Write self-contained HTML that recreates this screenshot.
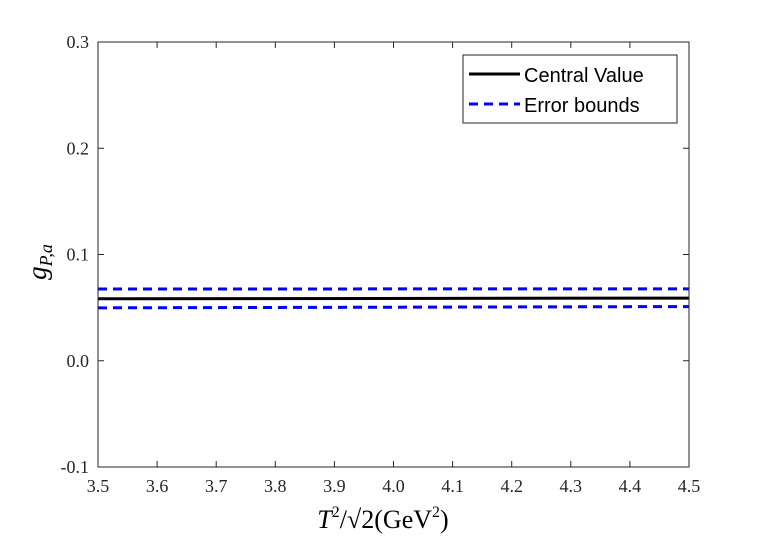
<!DOCTYPE html>
<html><head><meta charset="utf-8"><style>
body{margin:0;background:#fff;}
svg{display:block;font-family:"Liberation Sans",sans-serif;}
</style></head><body>
<svg id="chart" width="763" height="545" xmlns="http://www.w3.org/2000/svg">
<rect width="763" height="545" fill="#fff"/>
<g id="marks"></g>
<rect x="98" y="42" width="591" height="425" fill="none" stroke="#262626" stroke-width="1"/>
<g id="ticks"></g>
<text x="0" y="0" font-family="Liberation Serif,serif" font-style="italic" font-size="27" transform="translate(46,262) rotate(-90)" text-anchor="middle">g<tspan font-size="18" dy="6">P,a</tspan></text>
<text x="383" y="528" font-family="Liberation Serif,serif" font-size="26" text-anchor="middle"><tspan font-style="italic">T</tspan><tspan font-size="16" dy="-11">2</tspan><tspan dy="11">/√2(GeV</tspan><tspan font-size="16" dy="-11">2</tspan><tspan dy="11">)</tspan></text>
<g>
<rect x="463" y="55" width="214" height="68" fill="#fff" stroke="#262626" stroke-width="1"/>
<line x1="469" y1="74" x2="520" y2="74" stroke="#000" stroke-width="3"/>
<text x="524" y="82" font-size="20">Central Value</text>
<line x1="469" y1="104" x2="520" y2="104" stroke="#00f" stroke-width="3" stroke-dasharray="9,6"/>
<text x="524" y="112" font-size="20">Error bounds</text>
</g>
</svg>
<script>
const xs=[3.5,4.5];
const central=[0.0583,0.0590];
const upper=[0.0675,0.0677];
const lower=[0.0498,0.0510];
const xTicks=[3.5,3.6,3.7,3.8,3.9,4.0,4.1,4.2,4.3,4.4,4.5];
const yTicks=[-0.1,0.0,0.1,0.2,0.3];
const yTickLabels=["-0.1","0.0","0.1","0.2","0.3"];
const X=v=>98+(v-3.5)/1.0*591;
const Y=v=>467-(v+0.1)/0.4*425;
const NS="http://www.w3.org/2000/svg";
const marks=document.getElementById('marks'),ticks=document.getElementById('ticks');
function mk(tag,attrs,parent){const e=document.createElementNS(NS,tag);for(const k in attrs)e.setAttribute(k,attrs[k]);parent.appendChild(e);return e;}
function line(vals,name,color,w,dash){
 const p=mk('polyline',{points:xs.map((x,i)=>X(x)+','+Y(vals[i])).join(' '),fill:'none',stroke:color,'stroke-width':w},marks);
 if(dash)p.setAttribute('stroke-dasharray',dash);
 
 
}
line(upper,'upper-error-line','#00f',3,'9,6');
line(lower,'lower-error-line','#00f',3,'9,6');
line(central,'central-value-line','#000',3,null);
xTicks.forEach(v=>{
 const x=X(v);
 mk('line',{x1:x,y1:467,x2:x,y2:461,stroke:'#262626'},ticks);
 mk('line',{x1:x,y1:42,x2:x,y2:48,stroke:'#262626'},ticks);
 const t=mk('text',{x:x,y:492,'font-size':18,'text-anchor':'middle',fill:'#262626','font-family':'Liberation Serif,serif'},ticks);
 t.textContent=v.toFixed(1);
 
 
});
yTicks.forEach((v,i)=>{
 const y=Y(v);
 mk('line',{x1:98,y1:y,x2:104,y2:y,stroke:'#262626'},ticks);
 mk('line',{x1:689,y1:y,x2:683,y2:y,stroke:'#262626'},ticks);
 const t=mk('text',{x:89,y:y+6,'font-size':18,'text-anchor':'end',fill:'#262626','font-family':'Liberation Serif,serif'},ticks);
 t.textContent=yTickLabels[i];
 
 
});
</script>
</body></html>
